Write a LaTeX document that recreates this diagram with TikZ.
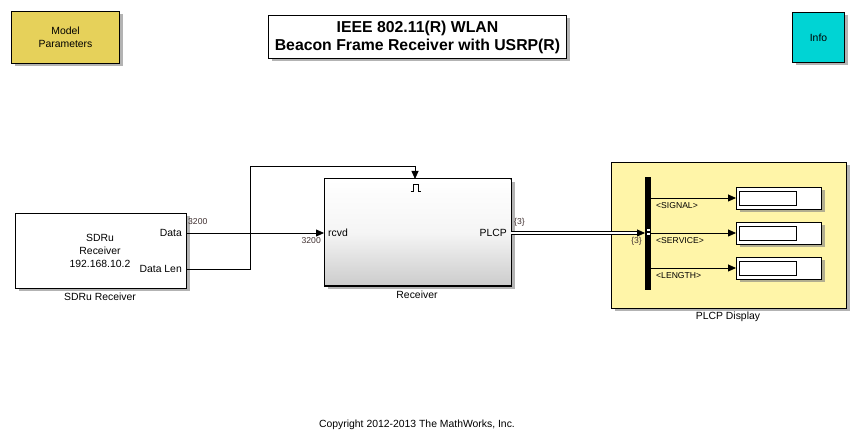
\documentclass[tikz,border=0pt]{standalone}
\usepackage{fontspec}
\setmainfont{Liberation Sans}
\usetikzlibrary{arrows.meta,shadows}
\definecolor{mpgold}{HTML}{E6D15A}
\definecolor{infocyan}{HTML}{00D4D4}
\definecolor{plcpyel}{HTML}{FFF5A8}
\definecolor{lblc}{HTML}{403030}
\tikzset{
  blk/.style={draw=black, line width=1pt, drop shadow={shadow xshift=3pt, shadow yshift=-3pt, fill=black!50, opacity=0.6}},
  sig/.style={line width=0.8pt, -{Triangle[length=8pt,width=7pt]}},
  wire/.style={line width=0.8pt},
  txt/.style={font=\fontsize{10.4}{13}\selectfont, inner sep=0pt},
  small/.style={font=\fontsize{8.6}{10}\selectfont, inner sep=0pt, text=lblc},
}
\begin{document}
\begin{tikzpicture}[x=1pt,y=-1pt]
\useasboundingbox (0,0) rectangle (856,443);
% Model parameters
\node[blk, fill=mpgold, minimum width=108pt, minimum height=52pt, anchor=north west, inner sep=0pt] (mp) at (11,11) {};
\node[txt, align=center] (mpt) at (mp.center) {Model\\Parameters};
% Title
\node[blk, fill=white, minimum width=298pt, minimum height=43pt, anchor=north west, inner sep=0pt] (title) at (268,15) {};
\node[font=\fontsize{15.8}{18}\selectfont\bfseries, align=center, inner sep=0pt] (titlet) at (title.center) {IEEE 802.11(R) WLAN\\Beacon Frame Receiver with USRP(R)};
% Info
\node[blk, fill=infocyan, minimum width=52pt, minimum height=50pt, anchor=north west, inner sep=0pt] (info) at (792,12) {};
\node[txt] (infot) at (info.center) {Info};
% SDRu Receiver
\node[blk, fill=white, minimum width=171pt, minimum height=75pt, anchor=north west, inner sep=0pt] (sdru) at (15,213) {};
\node[txt, align=center] (sdrut) at (100,251) {SDRu\\Receiver\\192.168.10.2};
\node[txt] (sdrul) at (100,297) {SDRu Receiver};
\coordinate (dout) at (186,233);
\coordinate (lout) at (186,269);
\node[txt, anchor=east] (dlab) at (182,233) {Data};
\node[txt, anchor=east] (llab) at (182,269) {Data Len};
% Receiver
\node[blk, fill=white, minimum width=187pt, minimum height=107pt, anchor=north west, inner sep=0pt] (rx) at (324,179) {};
\shade[top color=white, bottom color=black!20, middle color=black!4] (324.5,179.5) rectangle (510.5,285.5);
\draw[line width=1pt] (324,179) rectangle (511,286);
\coordinate (rin) at (324,233);
\coordinate (rout) at (511,233);
\coordinate (rtrig) at (415,179);
\node[txt, anchor=west] (rcvd) at (328,233) {rcvd};
\node[txt, anchor=east] (plcp) at (507,233) {PLCP};
\node[txt] (rxl) at (417,295) {Receiver};
\draw[line width=0.9pt] (410.5,191) -- (413,191) -- (413,184.5) -- (418,184.5) -- (418,191) -- (420.5,191);
% PLCP display
\node[blk, fill=plcpyel, minimum width=235pt, minimum height=146pt, anchor=north west, inner sep=0pt] (disp) at (611,162) {};
\node[txt] (displ) at (728,317) {PLCP Display};
\fill[black] (645,177) rectangle (651,290);
\node[inner sep=0pt, minimum width=6pt, minimum height=113pt, anchor=north west] (bus) at (645,177) {};
\fill[white] (646.5,229.5) rectangle (649.5,231.5);
\fill[white] (646.5,233) rectangle (649.5,235);
\coordinate (bin) at (645,233);
% display blocks
\foreach \n/\y in {d1/187,d2/222,d3/257}{
  \node[blk, fill=white, minimum width=85pt, minimum height=22pt, anchor=north west, inner sep=0pt] (\n) at (736,\y) {};
  \draw[line width=0.8pt] (739,\y+4) rectangle (796,\y+18);
}
\draw[sig] (651,198) -- (d1.west |- 0,198);
\draw[sig] (651,233) -- (d2.west |- 0,233);
\draw[sig] (651,268) -- (d3.west |- 0,268);
\node[small, anchor=west, text=black] (s1) at (656,206) {<SIGNAL>};
\node[small, anchor=west, text=black] (s2) at (656,241) {<SERVICE>};
\node[small, anchor=west, text=black] (s3) at (656,276) {<LENGTH>};
% connectors
\draw[sig] (dout) -- (rin);
\draw[wire] (lout) -- (250,269) -- (250,166) -- (415,166);
\draw[sig] (415,166) -- (rtrig);
\draw[line width=0.8pt, double=white, double distance=2pt, -{Triangle[length=8pt,width=7pt]}] (rout) -- (bin);
\node[small, anchor=west] (l1) at (188,222) {3200};
\node[small, anchor=east] (l2) at (321,241) {3200};
\node[small, anchor=west] (l3) at (514,222) {\{3\}};
\node[small, anchor=east] (l4) at (642,241) {\{3\}};
% copyright
\node[txt] (copy) at (417,425) {Copyright 2012-2013 The MathWorks, Inc.};
\end{tikzpicture}
\end{document}
